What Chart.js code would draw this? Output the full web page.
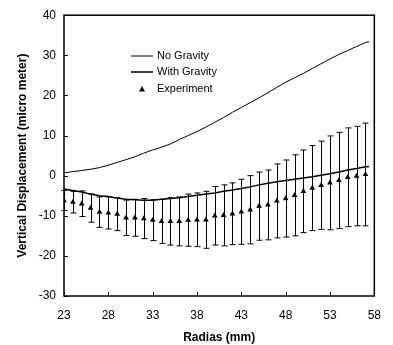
<!DOCTYPE html>
<html>
<head>
<meta charset="utf-8">
<script src="https://cdn.jsdelivr.net/npm/chart.js@4.4.1/dist/chart.umd.min.js"></script>
<style>
html,body{margin:0;padding:0;background:#fff;}
#wrap{width:393px;height:345px;position:relative;}
</style>
</head>
<body>
<div id="wrap"><canvas id="c" width="393" height="345"></canvas></div>
<script>
// ---- data ----
const modelRadius = [23,24,25,26,27,28,29,30,31,32,33,34,35,36,37,38,39,40,41,42,43,44,45,46,47,48,49,50,51,52,53,54,55,56,57,57.4];
const noGravity = [0.7,1.0,1.3,1.6,2.0,2.6,3.3,4.0,4.7,5.6,6.4,7.1,7.9,9.0,10.0,11.0,12.1,13.3,14.5,15.8,17.0,18.2,19.4,20.7,22.0,23.3,24.4,25.5,26.7,27.9,29.1,30.2,31.2,32.2,33.2,33.4];
const withGravity = [-3.3,-3.7,-4.1,-4.6,-5.0,-5.2,-5.6,-5.9,-6.0,-6.1,-6.1,-5.9,-5.7,-5.5,-5.2,-4.9,-4.6,-4.3,-3.9,-3.6,-3.2,-2.8,-2.3,-1.9,-1.5,-1.2,-0.9,-0.6,-0.3,0.1,0.5,0.9,1.4,1.8,2.2,2.3];
const expRadius = [23,24,25,26,27,28,29,30,31,32,33,34,35,36,37,38,39,40,41,42,43,44,45,46,47,48,49,50,51,52,53,54,55,56,57];
const experiment = [-6.2,-6.6,-7.0,-8.1,-9.1,-9.3,-9.6,-10.5,-10.5,-10.7,-11.1,-11.4,-11.4,-11.4,-11.1,-11.0,-11.0,-10.0,-9.9,-9.5,-9.0,-8.5,-7.6,-7.3,-6.3,-5.7,-4.9,-3.9,-3.1,-2.4,-1.8,-1.2,-0.4,-0.1,0.3];
const expError = [2.5,2.7,3.2,3.5,3.8,4.0,4.1,4.4,4.6,5.0,5.1,5.5,5.9,6.1,6.5,6.7,7.1,7.3,7.6,7.7,8.1,8.5,8.5,8.7,9.2,9.6,10.1,10.3,10.6,11.0,11.7,12.0,12.3,12.4,12.8];
const xTicks = [23,28,33,38,43,48,53,58];
const yTicks = [-30,-20,-10,0,10,20,30,40];
const seriesNames = ['No Gravity','With Gravity','Experiment'];
const xTitle = 'Radias (mm)';
const yTitle = 'Vertical Displacement (micro meter)';

const FONT = 'Arial, "Liberation Sans", sans-serif';

const zip = (xs, ys) => xs.map((x,i)=>({x:x, y:ys[i]}));

const framePlugin = {
  id: 'frame',
  afterDatasetsDraw(chart) {
    const ctx = chart.ctx, a = chart.chartArea;
    const xs = chart.scales.x, ys = chart.scales.y;
    ctx.save();
    // error bars
    ctx.strokeStyle = '#000';
    ctx.lineWidth = 1;
    expRadius.forEach((r,i)=>{
      const px = Math.round(xs.getPixelForValue(r)) + 0.5;
      const top = ys.getPixelForValue(experiment[i] + expError[i]);
      const bot = ys.getPixelForValue(experiment[i] - expError[i]);
      ctx.beginPath();
      ctx.moveTo(px, top); ctx.lineTo(px, bot);
      ctx.moveTo(px-3, top); ctx.lineTo(px+3, top);
      ctx.moveTo(px-3, bot); ctx.lineTo(px+3, bot);
      ctx.stroke();
    });
    // frame
    ctx.lineWidth = 1.5;
    ctx.strokeRect(a.left, a.top, a.right - a.left, a.bottom - a.top);
    // inward ticks
    ctx.lineWidth = 1;
    yTicks.forEach(v=>{
      const py = Math.round(ys.getPixelForValue(v)) + 0.5;
      ctx.beginPath(); ctx.moveTo(a.left, py); ctx.lineTo(a.left+4, py); ctx.stroke();
    });
    xTicks.forEach(v=>{
      const px = Math.round(xs.getPixelForValue(v)) + 0.5;
      ctx.beginPath(); ctx.moveTo(px, a.bottom); ctx.lineTo(px, a.bottom-4); ctx.stroke();
    });
    // legend
    ctx.fillStyle = '#000';
    ctx.font = '11px ' + FONT;
    ctx.textBaseline = 'middle';
    ctx.textAlign = 'left';
    const lx0 = 131, lx1 = 153, tx = 157;
    const rows = [56, 72, 89];
    ctx.lineWidth = 1;
    ctx.beginPath(); ctx.moveTo(lx0, rows[0]); ctx.lineTo(lx1, rows[0]); ctx.stroke();
    ctx.lineWidth = 1.5;
    ctx.beginPath(); ctx.moveTo(lx0, rows[1]); ctx.lineTo(lx1, rows[1]); ctx.stroke();
    // triangle
    ctx.beginPath();
    ctx.moveTo(142, rows[2]-3); ctx.lineTo(145, rows[2]+2.5); ctx.lineTo(139, rows[2]+2.5); ctx.closePath(); ctx.fill();
    rows.forEach((y,i)=> ctx.fillText(seriesNames[i], tx, y));
    ctx.restore();
  }
};

new Chart(document.getElementById('c'), {
  type: 'scatter',
  data: {
    datasets: [
      { label: seriesNames[0], data: zip(modelRadius, noGravity), showLine: true, borderColor: '#000', borderWidth: 1, pointRadius: 0, tension: 0 },
      { label: seriesNames[1], data: zip(modelRadius, withGravity), showLine: true, borderColor: '#000', borderWidth: 1.5, pointRadius: 0, tension: 0 },
      { label: seriesNames[2], data: zip(expRadius, experiment), showLine: false, pointStyle: 'triangle', pointRadius: 3.3, backgroundColor: '#000', borderColor: '#000', borderWidth: 0 }
    ]
  },
  options: {
    responsive: false,
    animation: false,
    events: [],
    layout: { padding: { left: 15, right: 9, top: 14, bottom: 0 } },
    plugins: { legend: { display: false }, tooltip: { enabled: false } },
    scales: {
      x: {
        type: 'linear', min: 23, max: 58,
        afterBuildTicks(s){ s.ticks = xTicks.map(v=>({value:v})); },
        afterFit(s){ s.height = 49; },
        grid: { display: false, drawTicks: false },
        border: { display: false },
        ticks: { color: '#000', font: { family: FONT, size: 12 }, padding: 12, maxRotation: 0 },
        title: { display: true, text: xTitle, color: '#000', font: { family: FONT, size: 12, weight: 'bold' }, padding: { top: 2, bottom: 0 } }
      },
      y: {
        type: 'linear', min: -30, max: 40,
        afterBuildTicks(s){ s.ticks = yTicks.map(v=>({value:v})); },
        afterFit(s){ s.width = 49; },
        grid: { display: false, drawTicks: false },
        border: { display: false },
        ticks: { color: '#000', font: { family: FONT, size: 12 }, padding: 8 },
        title: { display: true, text: yTitle, color: '#000', font: { family: FONT, size: 12, weight: 'bold' }, padding: { top: 0, bottom: 0 } }
      }
    }
  },
  plugins: [framePlugin]
});
</script>
</body>
</html>
